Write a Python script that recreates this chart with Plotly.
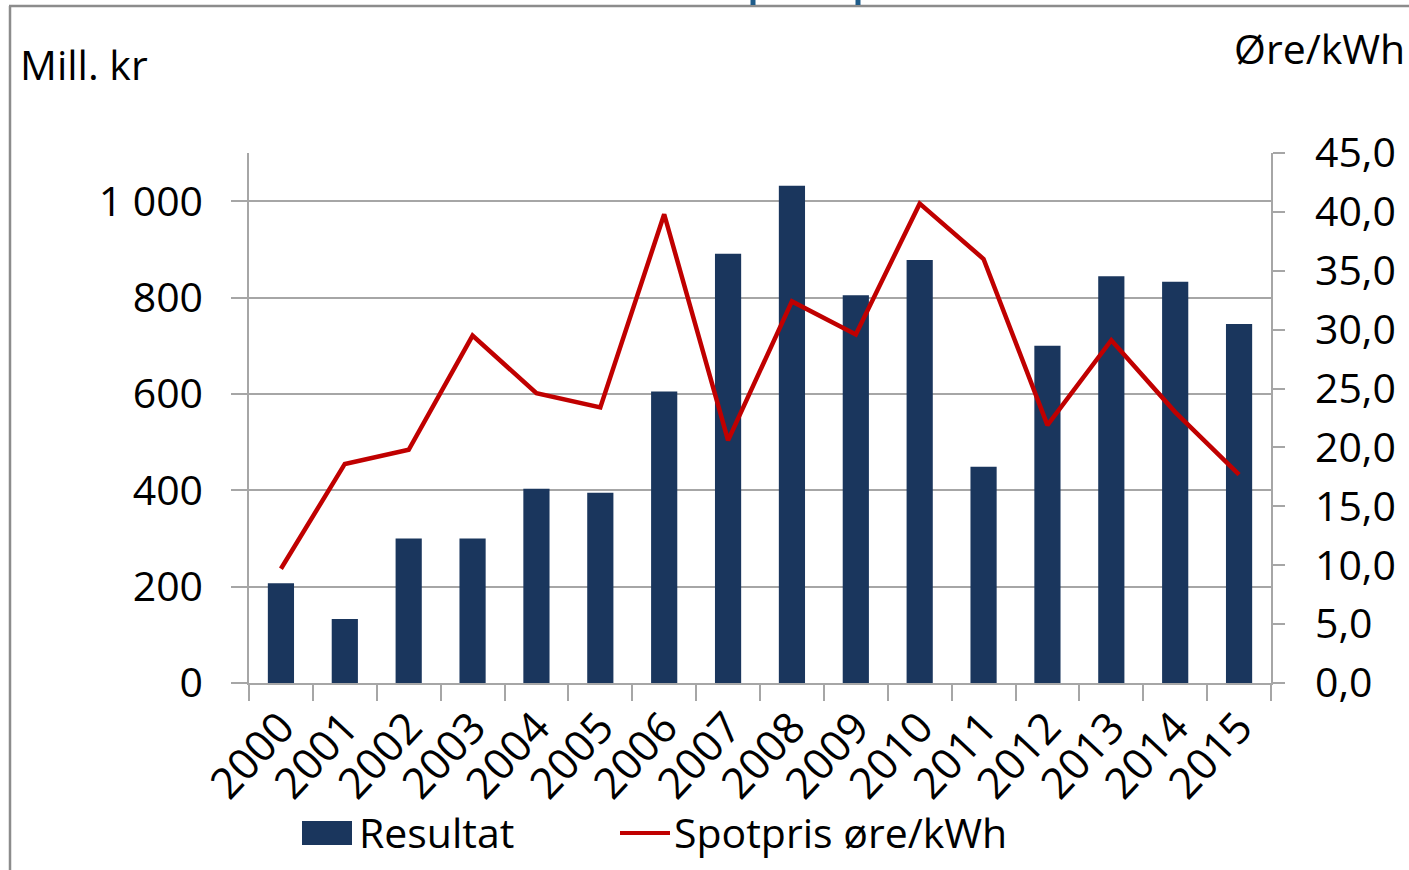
import plotly.graph_objects as go

years = [str(y) for y in range(2000, 2016)]
resultat = [207, 133, 300, 300, 403, 395, 605, 891, 1032, 805, 878, 449, 700, 844, 833, 745]
spotpris = [9.7, 18.6, 19.8, 29.5, 24.6, 23.4, 39.8, 20.6, 32.4, 29.6, 40.7, 36.0, 21.9, 29.1, 23.0, 17.7]

FONT = "Open Sans"
FS = 41
GRID = "#A6A6A6"
BAR_COLOR = "#1A365D"
LINE_COLOR = "#C00000"

L, R, T, B = 249, 1271, 153, 683
PW, PH = R - L, B - T


def px(x):
    return (x - L) / PW


def py(y):
    return (B - y) / PH


fig = go.Figure()
fig.add_trace(go.Bar(
    x=years, y=resultat, name="Resultat",
    marker=dict(color=BAR_COLOR, line=dict(width=0)),
    yaxis="y", showlegend=False,
))
fig.add_trace(go.Scatter(
    x=years, y=spotpris, name="Spotpris øre/kWh",
    mode="lines", line=dict(color=LINE_COLOR, width=4.5),
    yaxis="y2", showlegend=False,
))

fig.update_layout(
    width=1409, height=870,
    margin=dict(l=L, r=1409 - R, t=T, b=870 - B),
    paper_bgcolor="white", plot_bgcolor="white",
    separators=", ",
    font=dict(family=FONT, size=FS, color="black"),
    bargap=0.59,
    showlegend=False,
    xaxis=dict(
        type="category", range=[-0.5, 15.5],
        showline=True, linecolor=GRID, linewidth=1.5,
        ticks="outside", tickson="boundaries", ticklen=16, tickcolor=GRID, tickwidth=1.5,
        tickangle=-47, tickfont=dict(size=43, family=FONT),
        showgrid=False,
    ),
    yaxis=dict(
        range=[0, 1100], dtick=200, tick0=0, tickformat=",d",
        showline=True, linecolor=GRID, linewidth=1.5,
        ticks="outside", ticklen=16, tickcolor=GRID, tickwidth=1.5,
        showgrid=True, gridcolor=GRID, gridwidth=1.5,
        zeroline=False, tickfont=dict(size=FS, family=FONT),
        ticklabelstandoff=20,
    ),
    yaxis2=dict(
        range=[0, 45], dtick=5, tick0=0, tickformat=".1f",
        overlaying="y", side="right",
        showline=True, linecolor=GRID, linewidth=1.5,
        ticks="outside", ticklen=12, tickcolor=GRID, tickwidth=1.5,
        showgrid=False, zeroline=False, tickfont=dict(size=FS, family=FONT),
        ticklabelstandoff=22,
    ),
)

# frame
fig.add_shape(type="line", xref="paper", yref="paper", x0=px(9), x1=px(1420), y0=py(6), y1=py(6),
              line=dict(color="#8C8C8C", width=2.5))
fig.add_shape(type="line", xref="paper", yref="paper", x0=px(10), x1=px(10), y0=py(6), y1=py(880),
              line=dict(color="#8C8C8C", width=2.5))
# fragments of the cut-off heading
for xp in (753, 858):
    fig.add_shape(type="line", xref="paper", yref="paper",
                  x0=px(xp), x1=px(xp), y0=py(0), y1=py(5),
                  line=dict(color="#1F5C8A", width=5))

# axis titles
fig.add_annotation(text="Mill. kr", xref="paper", yref="paper",
                   x=px(18), y=py(64), xanchor="left", yanchor="middle",
                   showarrow=False, font=dict(size=FS, family=FONT))
fig.add_annotation(text="Øre/kWh", xref="paper", yref="paper",
                   x=px(1407), y=py(48), xanchor="right", yanchor="middle",
                   showarrow=False, font=dict(size=FS, family=FONT))

# legend (drawn manually to match the large swatches)
fig.add_shape(type="rect", xref="paper", yref="paper",
              x0=px(302), x1=px(352), y0=py(845), y1=py(821),
              fillcolor=BAR_COLOR, line=dict(width=0))
fig.add_annotation(text="Resultat", xref="paper", yref="paper",
                   x=px(357), y=py(832), xanchor="left", yanchor="middle",
                   showarrow=False, font=dict(size=FS, family=FONT))
fig.add_shape(type="line", xref="paper", yref="paper",
              x0=px(620), x1=px(670), y0=py(833), y1=py(833),
              line=dict(color=LINE_COLOR, width=4))
fig.add_annotation(text="Spotpris øre/kWh", xref="paper", yref="paper",
                   x=px(672), y=py(832), xanchor="left", yanchor="middle",
                   showarrow=False, font=dict(size=FS, family=FONT))

fig.write_html("out.html", config={"displayModeBar": False},
               post_script="document.body.style.margin='0';document.body.style.overflow='hidden';")
